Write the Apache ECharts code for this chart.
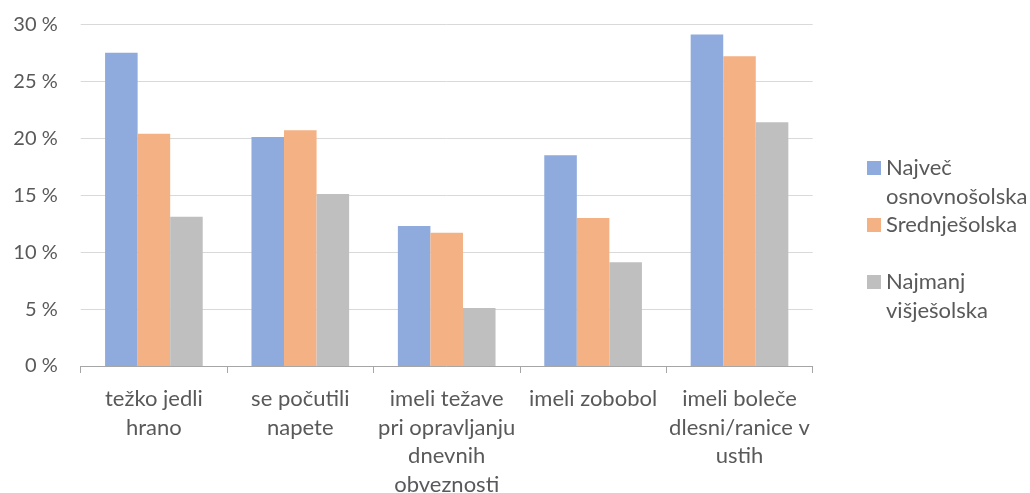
<!DOCTYPE html>
<html>
<head>
<meta charset="utf-8">
<script src="https://cdn.jsdelivr.net/npm/echarts@6/dist/echarts.min.js"></script>
<style>
  html, body { margin: 0; padding: 0; background: #fff; }
  #chart { width: 1030px; height: 493px; }
</style>
</head>
<body>
<div id="chart"></div>
<script>
// Share of respondents (%) by education level
const categories = [
  'težko jedli\nhrano',
  'se počutili\nnapete',
  'imeli težave\npri opravljanju\ndnevnih\nobveznosti',
  'imeli zobobol',
  'imeli boleče\ndlesni/ranice v\nustih'
];
const seriesNames = ['Največ osnovnošolska', 'Srednješolska', 'Najmanj višješolska'];
// A leading blank line keeps the swatch level with the first line of two-line entries
const legendLabels = ['\nNajveč\nosnovnošolska', 'Srednješolska', '\nNajmanj\nvišješolska'];
const osnovnosolska = [27.5, 20.1, 12.3, 18.5, 29.1];
const srednjesolska = [20.4, 20.7, 11.7, 13.0, 27.2];
const visjesolska = [13.1, 15.1, 5.1, 9.1, 21.4];
const yTicks = { min: 0, max: 30, interval: 5 };

const colors = ['#8FAADC', '#F4B183', '#BFBFBF'];
const values = [osnovnosolska, srednjesolska, visjesolska];
const font = 'Lato, "Open Sans", sans-serif';
const textColor = '#595959';

const chart = echarts.init(document.getElementById('chart'), null, { renderer: 'canvas' });

chart.setOption({
  animation: false,
  color: colors,
  grid: {
    left: 80.7, right: 217.3, top: 24.3, bottom: 127,
    containLabel: false,
    outerBoundsMode: 'none'
  },
  legend: {
    orient: 'vertical',
    left: 867,
    top: 125.25,
    padding: 0,
    itemGap: 0,
    itemWidth: 14,
    itemHeight: 14,
    icon: 'rect',
    selectedMode: false,
    formatter: name => legendLabels[seriesNames.indexOf(name)],
    textStyle: { fontFamily: font, fontSize: 22, color: textColor, lineHeight: 28.5 },
    data: seriesNames
  },
  xAxis: {
    type: 'category',
    data: categories,
    axisLine: { lineStyle: { color: '#A6A6A6', width: 1 } },
    axisTick: { show: true, length: 7, lineStyle: { color: '#A6A6A6' } },
    axisLabel: {
      interval: 0,
      margin: 19,
      fontFamily: font,
      fontSize: 22,
      color: textColor,
      lineHeight: 28.5,
      align: 'center'
    }
  },
  yAxis: {
    type: 'value',
    min: yTicks.min,
    max: yTicks.max,
    interval: yTicks.interval,
    axisLine: { show: false },
    axisTick: { show: false },
    splitLine: { lineStyle: { color: '#D9D9D9', width: 1 } },
    axisLabel: {
      margin: 23,
      fontFamily: font,
      fontSize: 20,
      color: textColor,
      formatter: v => v + ' %'
    }
  },
  series: seriesNames.map((name, i) => ({
    name,
    type: 'bar',
    data: values[i],
    barGap: '0%',
    barCategoryGap: '33.3%',
    itemStyle: { color: colors[i] }
  }))
});
</script>
</body>
</html>
